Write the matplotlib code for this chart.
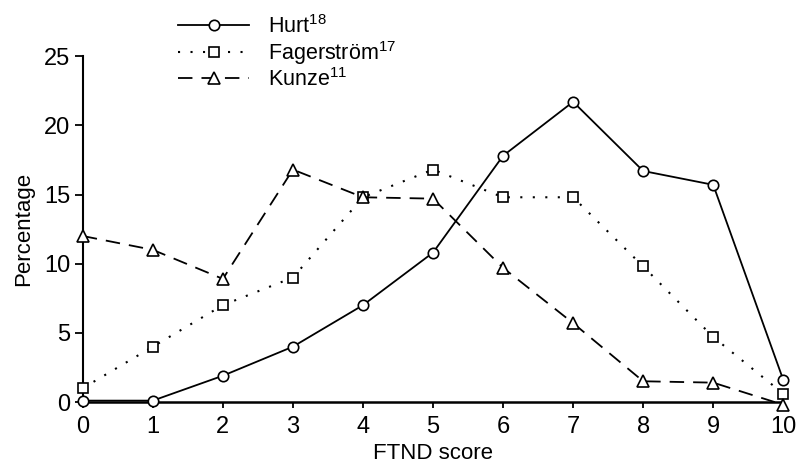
import matplotlib.pyplot as plt
import numpy as np

plt.rcParams['font.family'] = ['Liberation Sans', 'DejaVu Sans']
plt.rcParams['mathtext.fontset'] = 'custom'
plt.rcParams['mathtext.rm'] = 'Liberation Sans'
plt.rcParams['mathtext.it'] = 'Liberation Sans'

# FTND score distribution by study
scores = list(range(11))
hurt = [0.1, 0.1, 1.9, 4.0, 7.0, 10.8, 17.8, 21.7, 16.7, 15.7, 1.6]
fagerstrom = [1.0, 4.0, 7.0, 9.0, 14.8, 16.8, 14.8, 14.8, 9.8, 4.7, 0.6]
kunze = [12.0, 11.0, 8.9, 16.8, 14.8, 14.7, 9.7, 5.7, 1.5, 1.4, -0.2]
labels = ['Hurt$^{18}$', 'Fagerström$^{17}$', 'Kunze$^{11}$']

fig = plt.figure(figsize=(7.96, 4.68), dpi=100)
ax = fig.add_axes([0.104, 0.141, 0.880, 0.739])

ax.plot(scores, hurt, color='black', lw=1.3, marker='o', ms=7.5,
        mfc='white', mec='black', mew=1.2, label=labels[0], clip_on=False, zorder=3)
ax.plot(scores, fagerstrom, color='black', lw=1.5, ls=(0, (1, 5)), marker='s', ms=7.5,
        mfc='white', mec='black', mew=1.2, label=labels[1], clip_on=False, zorder=3)
ax.plot(scores, kunze, color='black', lw=1.3, ls=(0, (8, 5)), marker='^', ms=8,
        mfc='white', mec='black', mew=1.2, label=labels[2], clip_on=False, zorder=3)

ax.set_xlim(0, 10)
ax.set_ylim(0, 25)
ax.set_xticks(scores)
ax.set_yticks([0, 5, 10, 15, 20, 25])
ax.spines['top'].set_visible(False)
ax.spines['right'].set_visible(False)
ax.spines['left'].set_linewidth(1.5)
ax.spines['bottom'].set_linewidth(1.8)
ax.tick_params(axis='y', labelsize=17, width=1.3, length=6, pad=3)
ax.tick_params(axis='x', labelsize=17, width=1.3, length=4, pad=6)
ax.set_xlabel('FTND score', fontsize=16, labelpad=4)
ax.set_ylabel('Percentage', fontsize=16, labelpad=7)

ax.legend(loc='upper left', bbox_to_anchor=(0.205, 1.0), bbox_transform=fig.transFigure,
          frameon=False, fontsize=15.5, handlelength=3.3, handletextpad=0.85,
          labelspacing=0.05, borderpad=0.2)

plt.savefig('out.png', dpi=100)
